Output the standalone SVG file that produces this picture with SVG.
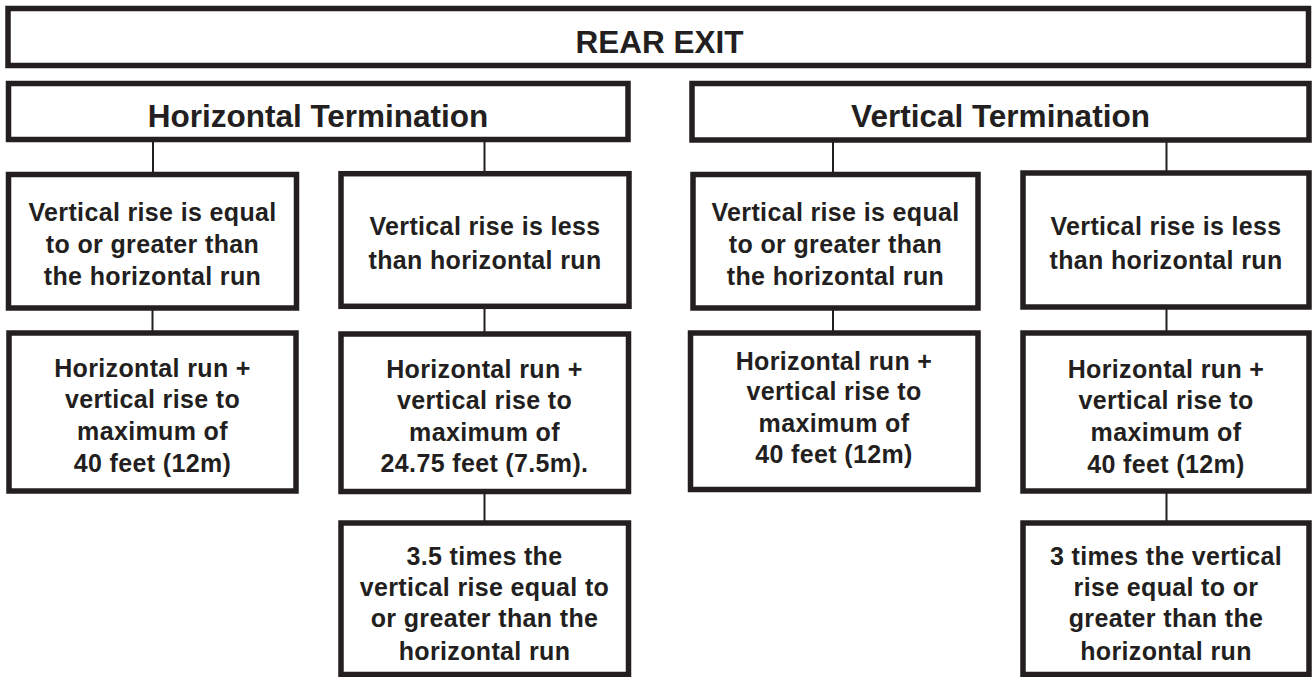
<svg xmlns="http://www.w3.org/2000/svg" width="1312" height="677" viewBox="0 0 1312 677">
<style>
.box{fill:#fff;stroke:#231f20;stroke-width:5.5}
.con line{stroke:#231f20;stroke-width:2}
text{font-family:"Liberation Sans",Arial,Helvetica,sans-serif;font-weight:bold;fill:#231f20;text-anchor:middle}
.t1{font-size:31.5px}
.t2{font-size:31.5px}
.t3{font-size:25px;letter-spacing:0.35px}
</style>
<rect width="1312" height="677" fill="#fff"/>
<g id="connectors" class="con">
<line x1="153" y1="140" x2="153" y2="175"/>
<line x1="484.5" y1="140" x2="484.5" y2="174"/>
<line x1="833" y1="140" x2="833" y2="175"/>
<line x1="1166.5" y1="140" x2="1166.5" y2="173"/>
<line x1="152.5" y1="308" x2="152.5" y2="333"/>
<line x1="484.5" y1="306" x2="484.5" y2="334"/>
<line x1="833" y1="308" x2="833" y2="333"/>
<line x1="1166.5" y1="307" x2="1166.5" y2="333"/>
<line x1="484.5" y1="491" x2="484.5" y2="523"/>
<line x1="1166.5" y1="491" x2="1166.5" y2="523"/>
</g>
<g id="rear-exit">
<rect class="box" x="8" y="8.5" width="1300.5" height="57"/>
<text class="t1" x="659.5" y="53">REAR EXIT</text>
</g>
<g id="horizontal-termination">
<rect class="box" x="8.5" y="83.5" width="619.5" height="56"/>
<text class="t2" x="318" y="127">Horizontal Termination</text>
</g>
<g id="vertical-termination">
<rect class="box" x="692" y="83.5" width="617" height="56.5"/>
<text class="t2" x="1000.5" y="127">Vertical Termination</text>
</g>
<g id="h-rise-equal">
<rect class="box" x="8.5" y="174.5" width="288" height="133.5"/>
<text class="t3" x="152.5" y="220.5">Vertical rise is equal</text>
<text class="t3" x="152.5" y="252.5">to or greater than</text>
<text class="t3" x="152.5" y="284.5">the horizontal run</text>
</g>
<g id="h-rise-less">
<rect class="box" x="341" y="173.7" width="288" height="132.6"/>
<text class="t3" x="485" y="235">Vertical rise is less</text>
<text class="t3" x="485" y="268.5">than horizontal run</text>
</g>
<g id="v-rise-equal">
<rect class="box" x="693" y="174.5" width="285" height="133.5"/>
<text class="t3" x="835.5" y="220.5">Vertical rise is equal</text>
<text class="t3" x="835.5" y="252.5">to or greater than</text>
<text class="t3" x="835.5" y="284.5">the horizontal run</text>
</g>
<g id="v-rise-less">
<rect class="box" x="1023" y="173" width="286" height="134"/>
<text class="t3" x="1166" y="235">Vertical rise is less</text>
<text class="t3" x="1166" y="268.5">than horizontal run</text>
</g>
<g id="h-max-40">
<rect class="box" x="9" y="333" width="287" height="158"/>
<text class="t3" x="152.5" y="377">Horizontal run +</text>
<text class="t3" x="152.5" y="408">vertical rise to</text>
<text class="t3" x="152.5" y="440">maximum of</text>
<text class="t3" x="152.5" y="471.5">40 feet (12m)</text>
</g>
<g id="h-max-2475">
<rect class="box" x="341" y="334" width="287.5" height="157.5"/>
<text class="t3" x="484.5" y="377.5">Horizontal run +</text>
<text class="t3" x="484.5" y="408.5">vertical rise to</text>
<text class="t3" x="484.5" y="440.5">maximum of</text>
<text class="t3" x="484.5" y="471.5">24.75 feet (7.5m).</text>
</g>
<g id="v-max-40">
<rect class="box" x="690.5" y="333" width="287.5" height="156.5"/>
<text class="t3" x="834" y="369.5">Horizontal run +</text>
<text class="t3" x="834" y="400">vertical rise to</text>
<text class="t3" x="834" y="431.5">maximum of</text>
<text class="t3" x="834" y="463">40 feet (12m)</text>
</g>
<g id="v-max-40b">
<rect class="box" x="1023" y="333" width="286" height="158"/>
<text class="t3" x="1166" y="377.5">Horizontal run +</text>
<text class="t3" x="1166" y="408.5">vertical rise to</text>
<text class="t3" x="1166" y="440.5">maximum of</text>
<text class="t3" x="1166" y="472.5">40 feet (12m)</text>
</g>
<g id="h-35-times">
<rect class="box" x="341" y="523" width="287.5" height="151.5"/>
<text class="t3" x="484.5" y="565">3.5 times the</text>
<text class="t3" x="484.5" y="596">vertical rise equal to</text>
<text class="t3" x="484.5" y="627">or greater than the</text>
<text class="t3" x="484.5" y="659.5">horizontal run</text>
</g>
<g id="v-3-times">
<rect class="box" x="1023" y="523" width="286" height="151.5"/>
<text class="t3" x="1166" y="565">3 times the vertical</text>
<text class="t3" x="1166" y="596">rise equal to or</text>
<text class="t3" x="1166" y="627">greater than the</text>
<text class="t3" x="1166" y="659.5">horizontal run</text>
</g>
</svg>
